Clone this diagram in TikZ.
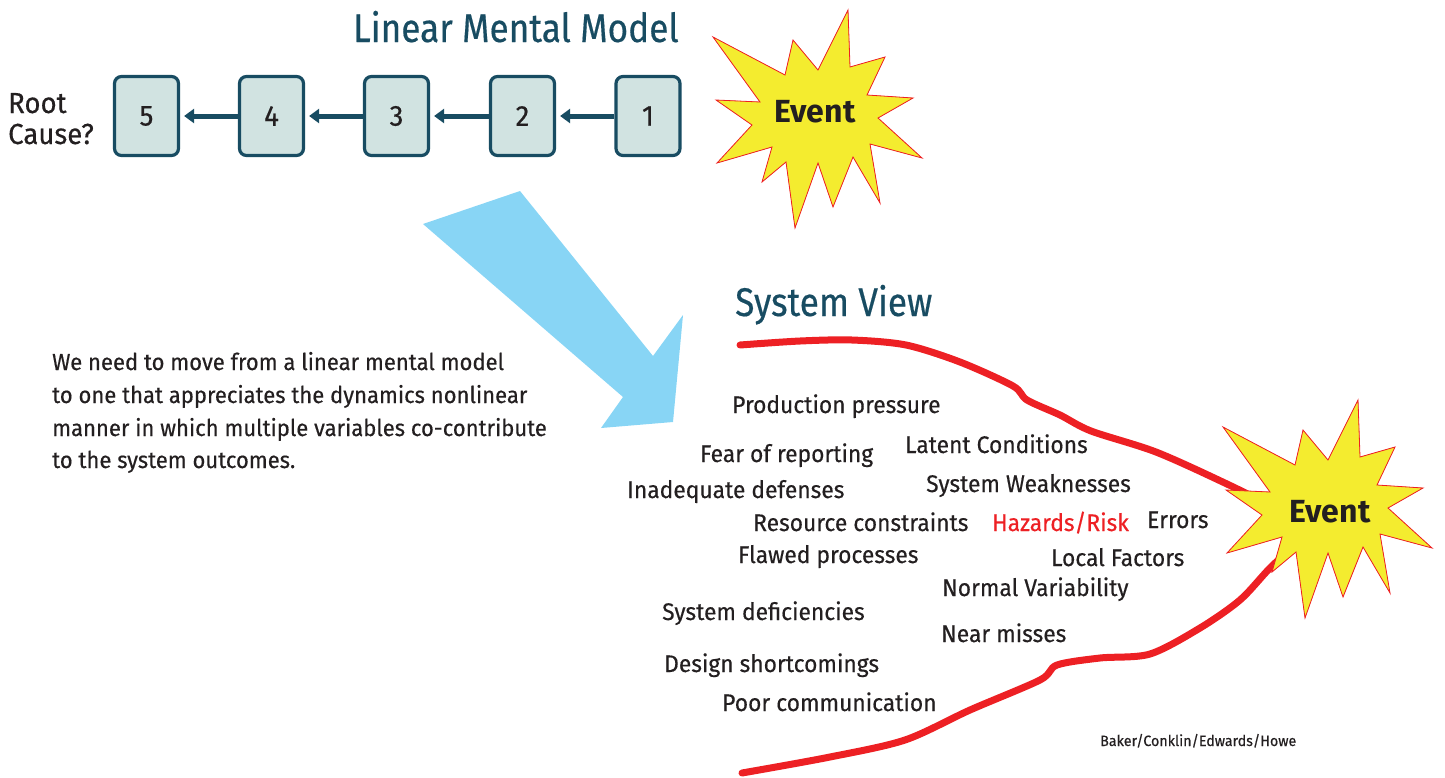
\documentclass[tikz,border=0pt]{standalone}
\usepackage{fontspec}
\setmainfont{Fira Sans}[FakeStretch=0.95, FakeBold=0.4]
\newfontfamily\ttlfont{Fira Sans}[FakeStretch=0.88, FakeBold=0.4]
\newfontfamily\evtfont{Fira Sans Bold}
\usetikzlibrary{arrows.meta}
\definecolor{teal}{RGB}{24,76,98}
\definecolor{boxfill}{RGB}{209,227,225}
\definecolor{starY}{RGB}{244,236,47}
\definecolor{starR}{RGB}{237,32,36}
\definecolor{skyB}{RGB}{136,213,245}
\definecolor{txt}{RGB}{35,31,32}
\tikzset{
  numbox/.style={draw=teal, fill=boxfill, line width=3.2pt, rounded corners=7pt,
    minimum width=64pt, minimum height=79pt, inner sep=0pt,
    font=\fontsize{29}{32}\selectfont, text=txt},
  chain/.style={draw=teal, line width=5pt, -{Triangle[length=10pt,width=14pt]}},
  factor/.style={anchor=base west, inner sep=0pt, text=txt, font=\fontsize{24}{28}\selectfont},
  para/.style={anchor=base west, inner sep=0pt, text=txt, font=\fontsize{23.2}{26}\selectfont},
  ttl/.style={anchor=base west, inner sep=0pt, text=teal, font=\ttlfont\fontsize{40}{44}\selectfont},
  evt/.style={inner sep=0pt, text=txt, font=\evtfont\fontsize{32}{36}\selectfont},
  redline/.style={draw=starR, line width=7pt, line cap=round, line join=round}
}
\newcommand{\starpath}{(848,10) -- (850,67) -- (885,57) -- (867,95) -- (913,98) -- (878,118) -- (922,158) -- (870,144) -- (880,203) -- (853,157) -- (833,207) -- (818,163) -- (795,228) -- (786,162) -- (762,182) -- (772,147) -- (717,163) -- (752,125) -- (716,100) -- (760,102) -- (713,37) -- (785,75) -- (793,40) -- (818,70) -- cycle}
\newcommand{\drawstar}{%
  \fill[starR] ([shift={(7,5)}]0,0) \starpath;
  \filldraw[fill=starY, draw=starR, line width=0.8pt] \starpath;}
\begin{document}
\begin{tikzpicture}[x=1pt,y=-1pt]
\useasboundingbox (0,0) rectangle (1445,777);
% title
\node[ttl] (t1) at (353,42) {Linear Mental Model};
% root cause
\node[anchor=base west, inner sep=0pt, text=txt, font=\fontsize{29}{31}\selectfont, align=left] (rc) at (8,144) {Root\\Cause?};
% boxes
\node[numbox] (b5) at (146.5,116) {5};
\node[numbox] (b4) at (271.5,116) {4};
\node[numbox] (b3) at (396.5,116) {3};
\node[numbox] (b2) at (522.5,116) {2};
\node[numbox] (b1) at (648,116) {1};
\draw[chain] (b4.west) -- ([xshift=4pt]b5.east);
\draw[chain] (b3.west) -- ([xshift=4pt]b4.east);
\draw[chain] (b2.west) -- ([xshift=4pt]b3.east);
\draw[chain] (b1.west) -- ([xshift=4pt]b2.east);
% star 1
\begin{scope}
\drawstar
\end{scope}
\node[evt] (e1) at (815,112) {Event};
% big blue arrow
\fill[skyB] (423,224) -- (520,191) -- (653,356) -- (683,315) -- (673,422) -- (601,428) -- (623,397) -- cycle;
% paragraph
\node[para] (p1) at (52,370) {We need to move from a linear mental model};
\node[para] (p2) at (52,403) {to one that appreciates the dynamics nonlinear};
\node[para] (p3) at (52,436) {manner in which multiple variables co-contribute};
\node[para] (p4) at (52,468) {to the system outcomes.};
% system view
\node[ttl] (t2) at (735,316) {System View};
% red curves
\draw[redline] plot[smooth, tension=0.5] coordinates {(740,345) (800,341) (852,340) (906,345) (960,362) (1013,386) (1027,400) (1060,415) (1091,431) (1156,452) (1227,484) (1300,520)};
\draw[redline] plot[smooth, tension=0.5] coordinates {(742,773) (830,757) (905,740) (970,710) (1040,680) (1057,665) (1100,658) (1150,654) (1200,628) (1240,600) (1270,568) (1300,540)};
% star 2
\begin{scope}[shift={(510,390)}]
\drawstar
\end{scope}
\node[evt] (e2) at (1330,512) {Event};
% factors
\node[factor] (f1) at (732,413) {Production pressure};
\node[factor] (f2) at (700,462) {Fear of reporting};
\node[factor] (f3) at (905,453) {Latent Conditions};
\node[factor] (f4) at (627,498) {Inadequate defenses};
\node[factor] (f5) at (926,492) {System Weaknesses};
\node[factor] (f6) at (753,531) {Resource constraints};
\node[factor, text=starR] (f7) at (992,531) {Hazards/Risk};
\node[factor] (f8) at (1147,528) {Errors};
\node[factor] (f9) at (738,563) {Flawed processes};
\node[factor] (f10) at (1051,566) {Local Factors};
\node[factor] (f11) at (942,596) {Normal Variability};
\node[factor] (f12) at (662,620) {System deficiencies};
\node[factor] (f13) at (941,642) {Near misses};
\node[factor] (f14) at (664,672) {Design shortcomings};
\node[factor] (f15) at (722,711) {Poor communication};
\node[anchor=base west, inner sep=0pt, text=txt, font=\fontsize{15}{17}\selectfont] (cr) at (1100,746) {Baker/Conklin/Edwards/Howe};
\end{tikzpicture}
\end{document}
